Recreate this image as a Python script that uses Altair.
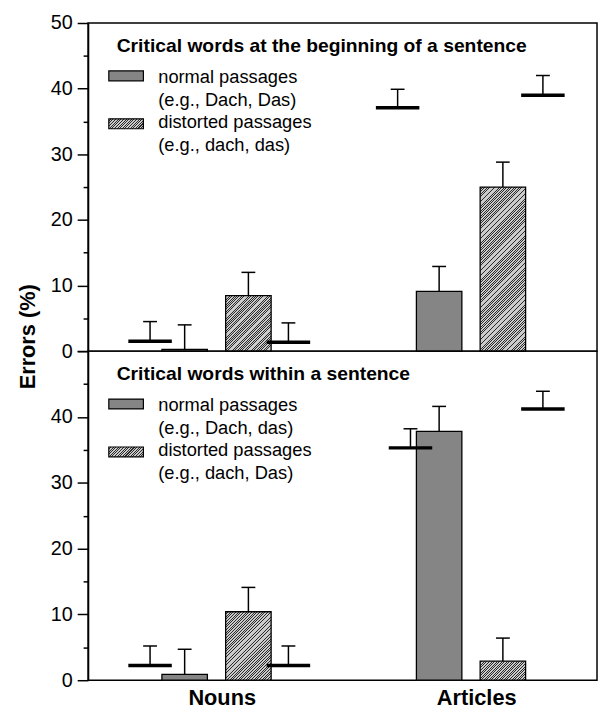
import json
import altair as alt
import pandas as pd

# ---------------- data ----------------
groups = ["Nouns", "Articles"]

y_title = "Errors (%)"
y_ticks = [0, 5, 10, 15, 20, 25, 30, 35, 40, 45, 50]
top_tick_labels = [0, 10, 20, 30, 40, 50]
bot_tick_labels = [0, 10, 20, 30, 40]

top_title = "Critical words at the beginning of a sentence"
top_legend = ["normal passages", "(e.g., Dach, Das)", "distorted passages", "(e.g., dach, das)"]
bot_title = "Critical words within a sentence"
bot_legend = ["normal passages", "(e.g., Dach, das)", "distorted passages", "(e.g., dach, Das)"]

# top panel (beginning of a sentence)
top_normal = [0.25, 9.1]
top_normal_err = [4.0, 12.9]
top_distorted = [8.45, 25.0]
top_distorted_err = [12.0, 28.8]
top_ref_normal = [1.5, 37.1]
top_ref_normal_err = [4.5, 39.9]
top_ref_distorted = [1.35, 39.0]
top_ref_distorted_err = [4.3, 42.0]

# bottom panel (within a sentence)
bot_normal = [0.9, 37.8]
bot_normal_err = [4.7, 41.6]
bot_distorted = [10.4, 2.9]
bot_distorted_err = [14.1, 6.4]
bot_ref_normal = [2.25, 35.3]
bot_ref_normal_err = [5.2, 38.2]
bot_ref_distorted = [2.25, 41.2]
bot_ref_distorted_err = [5.2, 43.9]

# ---------------- style / layout ----------------
FONT = "Liberation Sans"
W = 515
H_TOP = 332
H_BOT = 333
Y_MAX = 50
BAR_W = 46
REF_W = 44
CAP_W = 14
GRAY = "#858585"
HATCH_LIGHT = "#cbcbcb"
HATCH_DARK = "#2a2a2a"
OFF_NORMAL = -31
OFF_DIST = 33.5
OFF_REF_DIST = 74
OFF_REF_NORMAL = {"top": {"Nouns": -66, "Articles": -73},
                  "bot": {"Nouns": -66, "Articles": -60}}
SAMPLES = 255.0


def hatch(w, h, period=2.6, dark=0.38):
    """Diagonal '////' hatch as a hard-stop linear gradient over a w x h box.
    The stripe period is snapped to the gradient's colour-sample grid to avoid moire."""
    total = w + h
    k = max(2, round(period * SAMPLES / total))
    kd = max(1, round(k * dark))
    stops = [{"offset": 0, "color": HATCH_LIGHT}]
    j = 0
    while True:
        a = (j + k - kd + 0.5) / SAMPLES
        b = (j + k + 0.5) / SAMPLES
        if a >= 1:
            break
        b = min(b, 1.0)
        stops += [
            {"offset": round(a, 6), "color": HATCH_LIGHT},
            {"offset": round(a, 6), "color": HATCH_DARK},
            {"offset": round(b, 6), "color": HATCH_DARK},
            {"offset": round(b, 6), "color": HATCH_LIGHT},
        ]
        j += k
    stops.append({"offset": 1, "color": HATCH_LIGHT})
    d = w * w + h * h
    return {"gradient": "linear", "x1": 0, "y1": 0,
            "x2": w * total / d, "y2": h * total / d, "stops": stops}


def panel(key, H, title, legend, normal, normal_err, distorted, distorted_err,
          refn, refn_err, refd, refd_err, tick_labels, bottom):
    df = pd.DataFrame({
        "group": groups,
        "normal": normal, "normal_err": normal_err,
        "distorted": distorted, "distorted_err": distorted_err,
        "refn": refn, "refn_err": refn_err,
        "refd": refd, "refd_err": refd_err,
    })
    if bottom:
        xaxis = alt.Axis(title=None, labelAngle=0, ticks=False, domain=False,
                         labelFontSize=22, labelFontWeight="bold", labelPadding=8,
                         labelOffset=7, labelFont=FONT, labelColor="black")
    else:
        xaxis = None
    x = alt.X("group:N", sort=groups,
              scale=alt.Scale(domain=groups, paddingInner=0, paddingOuter=0),
              axis=xaxis)

    test = "indexof(%s, datum.value) >= 0" % json.dumps(tick_labels)
    axis_kw = dict(values=y_ticks,
                   labelExpr=f"{test} ? datum.label : ''",
                   tickSize={"condition": {"test": "datum.value % 10 === 0", "value": 11}, "value": 5},
                   grid=False, labelFontSize=20, labelPadding=5)
    if bottom:
        axis_kw["title"] = None
    else:
        axis_kw.update(title=y_title, titleX=-54, titleY=317, titleAngle=270,
                       titleAlign="center", titleBaseline="alphabetic",
                       titleFontSize=22, titleFontWeight="bold", titleFont=FONT,
                       titleColor="black")

    def y(field):
        return alt.Y(f"{field}:Q", scale=alt.Scale(domain=[0, Y_MAX], nice=False),
                     axis=alt.Axis(**axis_kw))

    base = alt.Chart(df)
    layers = []
    # normal passages bars
    layers.append(base.mark_bar(size=BAR_W, xOffset=OFF_NORMAL, fill=GRAY,
                                stroke="black", strokeWidth=1.3)
                  .encode(x=x, y=y("normal")))
    # distorted passages bars (hatched), one layer per bar
    for g, v in zip(groups, distorted):
        hpx = v / Y_MAX * H
        layers.append(base.mark_bar(size=BAR_W, xOffset=OFF_DIST, fill=hatch(BAR_W, hpx),
                                    stroke="black", strokeWidth=1.3)
                      .encode(x=x, y=y("distorted"))
                      .transform_filter(alt.datum.group == g))
    # reference lines
    for g in groups:
        off = OFF_REF_NORMAL[key][g]
        sub = base.transform_filter(alt.datum.group == g)
        layers.append(sub.mark_tick(size=REF_W, thickness=3.5, orient="horizontal",
                                    xOffset=off, color="black", opacity=1)
                      .encode(x=x, y=y("refn")))
        layers.append(sub.mark_rule(xOffset=off, color="black", strokeWidth=1.5)
                      .encode(x=x, y=y("refn"), y2="refn_err:Q"))
        layers.append(sub.mark_tick(size=CAP_W, thickness=1.5, orient="horizontal",
                                    xOffset=off, color="black", opacity=1)
                      .encode(x=x, y=y("refn_err")))
    layers.append(base.mark_tick(size=REF_W, thickness=3.5, orient="horizontal",
                                 xOffset=OFF_REF_DIST, color="black", opacity=1)
                  .encode(x=x, y=y("refd")))
    # error bars (upper only)
    for field, off in [("normal", OFF_NORMAL), ("distorted", OFF_DIST), ("refd", OFF_REF_DIST)]:
        layers.append(base.mark_rule(xOffset=off, color="black", strokeWidth=1.5)
                      .encode(x=x, y=y(field), y2=f"{field}_err:Q"))
        layers.append(base.mark_tick(size=CAP_W, thickness=1.5, orient="horizontal",
                                     xOffset=off, color="black", opacity=1)
                      .encode(x=x, y=y(f"{field}_err")))

    # legend (inside, top-left)
    one = pd.DataFrame({"k": [0]})
    lc = alt.Chart(one)
    layers.append(lc.mark_text(text=title, align="left", baseline="middle", font=FONT,
                               fontSize=19.5, fontWeight="bold", color="black")
                  .encode(x=alt.value(29), y=alt.value(23.5)))
    for txt, ty in zip(legend, [54.5, 78, 100.5, 123.5]):
        layers.append(lc.mark_text(text=txt, align="left", baseline="middle", font=FONT,
                                   fontSize=18.5, color="black")
                      .encode(x=alt.value(71), y=alt.value(ty)))
    layers.append(lc.mark_rect(fill=GRAY, stroke="black", strokeWidth=1.2)
                  .encode(x=alt.value(21), x2=alt.value(56), y=alt.value(48.5), y2=alt.value(58.5)))
    layers.append(lc.mark_rect(fill=hatch(35, 10), stroke="black", strokeWidth=1.2)
                  .encode(x=alt.value(21), x2=alt.value(56), y=alt.value(97), y2=alt.value(107)))

    return alt.layer(*layers).properties(width=W, height=H)


top = panel("top", H_TOP, top_title, top_legend, top_normal, top_normal_err,
            top_distorted, top_distorted_err, top_ref_normal, top_ref_normal_err,
            top_ref_distorted, top_ref_distorted_err, top_tick_labels, False)
bot = panel("bot", H_BOT, bot_title, bot_legend, bot_normal, bot_normal_err,
            bot_distorted, bot_distorted_err, bot_ref_normal, bot_ref_normal_err,
            bot_ref_distorted, bot_ref_distorted_err, bot_tick_labels, True)

chart = (
    alt.vconcat(top, bot, spacing=0, bounds="flush")
    .properties(padding={"left": 8, "top": 0, "right": 0, "bottom": 0},
                autosize=alt.AutoSizeParams(type="pad"),
                background="white")
    .configure(font=FONT)
    .configure_view(stroke="black", strokeWidth=1.5)
    .configure_axis(domainColor="black", domainWidth=1.5, tickColor="black",
                    tickWidth=1.5, labelColor="black", labelFont=FONT)
)

chart.save("out.html", embed_options={"renderer": "svg", "actions": False})
